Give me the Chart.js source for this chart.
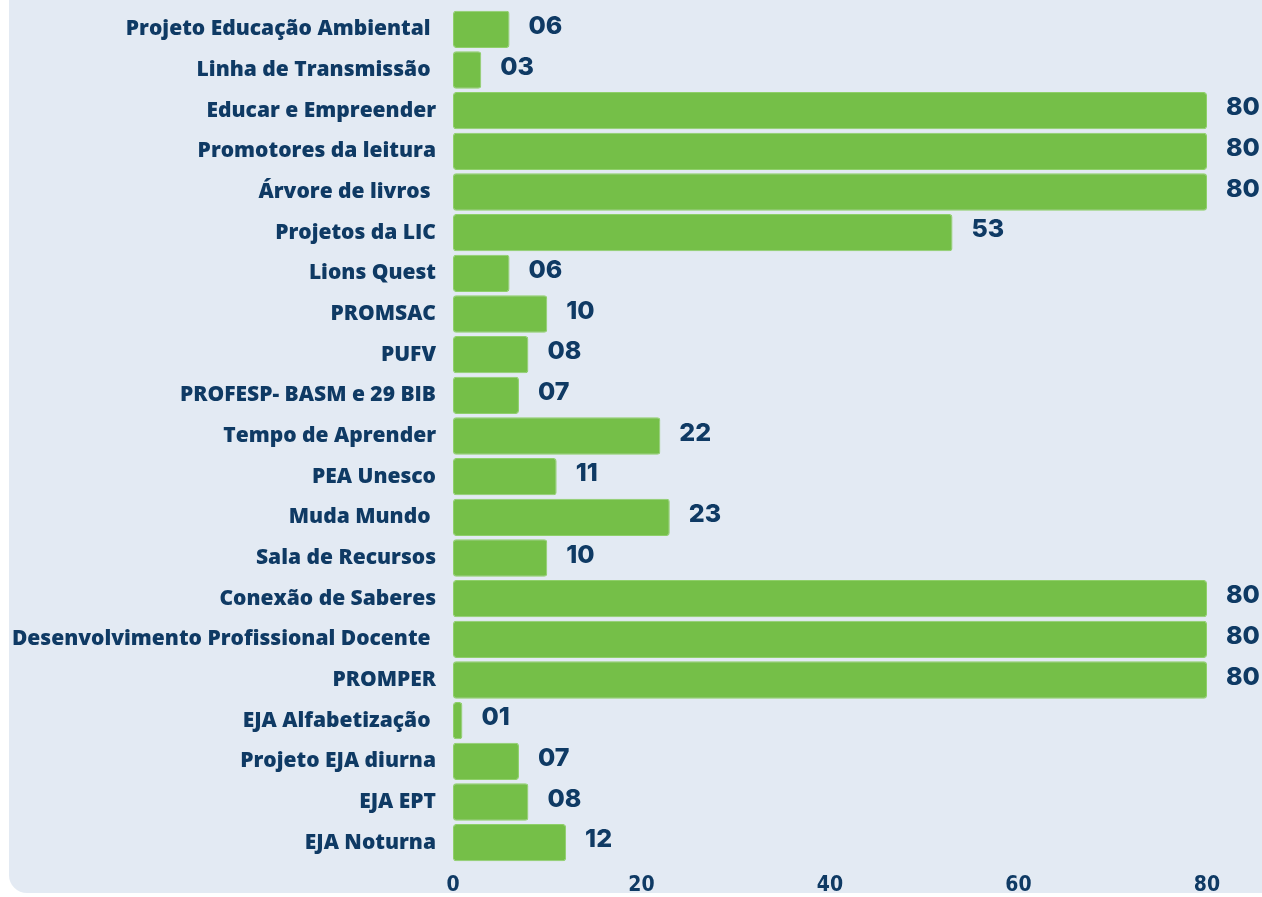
<!DOCTYPE html>
<html>
<head>
<meta charset="utf-8">
<script src="https://cdn.jsdelivr.net/npm/chart.js@4"></script>
<style>
  html, body { margin: 0; padding: 0; background: #ffffff; }
  #wrap { position: relative; width: 1262px; height: 897px; }
  #panel {
    position: absolute; left: 9px; top: 0; width: 1253px; height: 893px;
    background: #e3eaf3; border-bottom-left-radius: 18px;
  }
  #barChart { position: absolute; left: 0; top: 0; }
</style>
</head>
<body>
<div id="wrap">
  <div id="panel"></div>
  <canvas id="barChart" width="1262" height="897"></canvas>
</div>
<script>
// categorias (mismo orden que la imagen, de arriba a abajo)
const categorias = [
  'Projeto Educação Ambiental ',
  'Linha de Transmissão ',
  'Educar e Empreender',
  'Promotores da leitura',
  'Árvore de livros ',
  'Projetos da LIC',
  'Lions Quest',
  'PROMSAC',
  'PUFV',
  'PROFESP- BASM e 29 BIB',
  'Tempo de Aprender',
  'PEA Unesco',
  'Muda Mundo ',
  'Sala de Recursos',
  'Conexão de Saberes',
  'Desenvolvimento Profissional Docente ',
  'PROMPER',
  'EJA Alfabetização ',
  'Projeto EJA diurna',
  'EJA EPT',
  'EJA Noturna'
];

const valores = [6, 3, 80, 80, 80, 53, 6, 10, 8, 7, 22, 11, 23, 10, 80, 80, 80, 1, 7, 8, 12];

const ticksX = [0, 20, 40, 60, 80];

const colorBarra = '#75bf48';
const colorTexto = '#0f3a64';

// etiquetas de valor al final de cada barra
const etiquetasValor = {
  id: 'etiquetasValor',
  afterDatasetsDraw(chart) {
    const ctx = chart.ctx;
    const meta = chart.getDatasetMeta(0);
    ctx.save();
    ctx.fillStyle = colorTexto;
    ctx.font = '800 25px "Inter", "DejaVu Sans", sans-serif';
    ctx.textAlign = 'left';
    ctx.textBaseline = 'middle';
    meta.data.forEach((bar, i) => {
      const txt = String(valores[i]).padStart(2, '0');
      ctx.fillText(txt, bar.x + 19, bar.y - 3);
    });
    ctx.restore();
  }
};

const ctx = document.getElementById('barChart');
const chart = new Chart(ctx, {
  type: 'bar',
  data: {
    labels: categorias,
    datasets: [{
      data: valores,
      backgroundColor: colorBarra,
      borderColor: '#8fcf6a',
      borderWidth: 1,
      borderRadius: 3,
      borderSkipped: false,
      categoryPercentage: 0.92,
      barPercentage: 1.0
    }]
  },
  options: {
    indexAxis: 'y',
    responsive: false,
    animation: false,
    layout: { padding: { top: 9, right: 55, bottom: 0, left: 0 } },
    scales: {
      x: {
        min: 0,
        max: 80,
        afterBuildTicks: (scale) => { scale.ticks = ticksX.map(v => ({ value: v })); },
        afterFit: (scale) => { scale.height = 34; },
        grid: { display: false, drawTicks: false },
        border: { display: false },
        ticks: {
          color: colorTexto,
          padding: 10,
          font: { family: '"Liberation Sans Narrow", "DejaVu Sans Condensed", sans-serif', size: 21, weight: 'bold' }
        }
      },
      y: {
        afterFit: (scale) => {
          scale.width = 453;
          scale.paddingTop = 0;
          scale.paddingBottom = 0;
        },
        grid: { display: false, drawTicks: false },
        border: { display: false },
        ticks: {
          color: colorTexto,
          padding: 17,
          font: { family: '"Open Sans", "Noto Sans", sans-serif', size: 21, weight: '800' }
        }
      }
    },
    plugins: {
      legend: { display: false },
      tooltip: { enabled: false }
    }
  },
  plugins: [etiquetasValor]
});
</script>
</body>
</html>
